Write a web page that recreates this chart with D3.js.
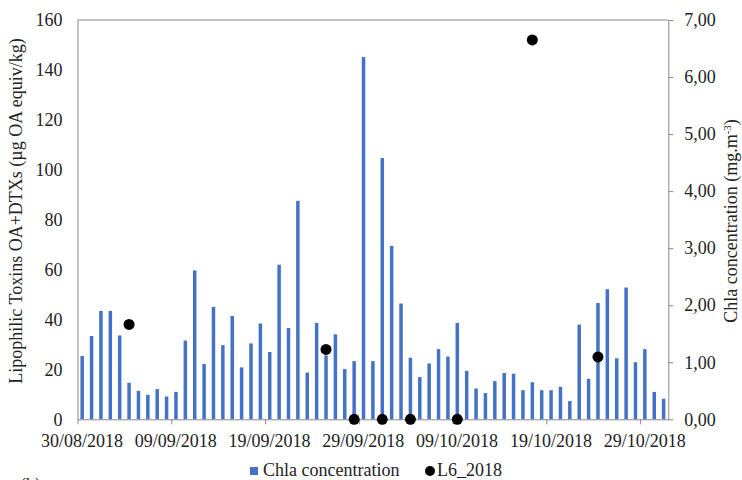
<!DOCTYPE html>
<html>
<head>
<meta charset="utf-8">
<script src="https://cdn.jsdelivr.net/npm/d3@7"></script>
<style>
  html, body { margin: 0; padding: 0; background: #fff; }
  svg { display: block; font-family: "Liberation Serif", "Times New Roman", serif; }
</style>
</head>
<body>
<svg id="chart" width="742" height="480"></svg>
<script>
// Daily chlorophyll a (mg.m-3), one value per day starting 30/08/2018
const firstDay = "2018-08-30";
const chla = [
  1.11, 1.46, 1.90, 1.90, 1.47, 0.64, 0.50, 0.43, 0.53, 0.40,
  0.48, 1.38, 2.61, 0.97, 1.97, 1.30, 1.81, 0.91, 1.33, 1.68,
  1.18, 2.71, 1.60, 3.83, 0.82, 1.69, 1.12, 1.49, 0.88, 1.02,
  6.35, 1.02, 4.58, 3.04, 2.03, 1.08, 0.74, 0.98, 1.23, 1.10,
  1.69, 0.85, 0.54, 0.46, 0.67, 0.81, 0.80, 0.51, 0.65, 0.51,
  0.51, 0.57, 0.32, 1.66, 0.71, 2.04, 2.28, 1.07, 2.31, 1.00,
  1.23, 0.48, 0.36
];

// Lipophilic toxin samples, station L6 (µg OA equiv/kg)
const toxinDates = ["2018-09-04", "2018-09-25", "2018-09-28", "2018-10-01",
                    "2018-10-04", "2018-10-09", "2018-10-17", "2018-10-24"];
const toxinValues = [38, 28, 0, 0, 0, 0, 152, 25];

// Axis ticks
const dateTicks = ["2018-08-30", "2018-09-09", "2018-09-19", "2018-09-29",
                   "2018-10-09", "2018-10-19", "2018-10-29"];
const leftTicks = [0, 20, 40, 60, 80, 100, 120, 140, 160];
const rightTicks = [0, 1, 2, 3, 4, 5, 6, 7];

const parse = d3.utcParse("%Y-%m-%d");
const fmtDate = d3.utcFormat("%d/%m/%Y");
const start = parse(firstDay);
const dayCenter = d => d3.utcHour.offset(d, 12);

const svg = d3.select("#chart");
svg.append("rect").attr("width", 742).attr("height", 480).attr("fill", "#fff");

const plot = { left: 77.5, right: 668.3, top: 20, bottom: 419.3 };

const x = d3.scaleUtc()
  .domain([start, d3.utcDay.offset(start, chla.length)])
  .range([plot.left, plot.right]);
const yLeft = d3.scaleLinear().domain([0, 160]).range([plot.bottom, plot.top]);
const yRight = d3.scaleLinear().domain([0, 7]).range([plot.bottom, plot.top]);

const axisColor = "#8a8a8a";
const textColor = "#222";
const barColor = "#4472c4";

// Frame: top border
svg.append("line")
  .attr("x1", plot.left).attr("x2", plot.right)
  .attr("y1", plot.top).attr("y2", plot.top)
  .attr("stroke", axisColor).attr("stroke-width", 1);

// Bars (right axis)
const barW = 3.5;
svg.append("g").selectAll("rect")
  .data(chla)
  .join("rect")
  .attr("x", (v, i) => x(dayCenter(d3.utcDay.offset(start, i))) - barW / 2)
  .attr("width", barW)
  .attr("y", v => yRight(v))
  .attr("height", v => yRight(0) - yRight(v))
  .attr("fill", barColor);

// Left axis
const gL = svg.append("g").attr("transform", `translate(${plot.left},0)`)
  .call(d3.axisLeft(yLeft).tickValues(leftTicks).tickSize(0).tickPadding(15));
gL.select(".domain").attr("stroke", axisColor);
gL.selectAll("text").attr("font-family", "Liberation Serif").attr("font-size", 18)
  .attr("fill", textColor);

// Right axis
const gR = svg.append("g").attr("transform", `translate(${plot.right},0)`)
  .call(d3.axisRight(yRight).tickValues(rightTicks).tickSize(5).tickSizeOuter(0).tickPadding(11)
    .tickFormat(d => d3.format(".2f")(d).replace(".", ",")));
gR.select(".domain").attr("stroke", axisColor);
gR.selectAll(".tick line").attr("stroke", axisColor);
gR.selectAll("text").attr("font-family", "Liberation Serif").attr("font-size", 18)
  .attr("fill", textColor);

// Bottom date axis
const gB = svg.append("g").attr("transform", `translate(0,${plot.bottom})`)
  .call(d3.axisBottom(x).tickValues(dateTicks.map(parse)).tickSize(5).tickSizeOuter(0)
    .tickPadding(10).tickFormat(fmtDate));
gB.select(".domain").attr("stroke", axisColor);
gB.selectAll(".tick line").attr("stroke", axisColor);
gB.selectAll("text").attr("font-family", "Liberation Serif").attr("font-size", 18)
  .attr("fill", textColor).attr("dx", 4);

// Toxin points (left axis)
svg.append("g").selectAll("circle")
  .data(toxinDates.map((d, i) => ({ date: parse(d), value: toxinValues[i] })))
  .join("circle")
  .attr("cx", d => x(dayCenter(d.date)))
  .attr("cy", d => yLeft(d.value))
  .attr("r", 5.5)
  .attr("fill", "#000");

// Axis titles
svg.append("text")
  .attr("transform", "translate(22,211) rotate(-90)")
  .attr("text-anchor", "middle")
  .attr("font-size", 18).attr("fill", textColor)
  .text("Lipophilic Toxins OA+DTXs (µg OA equiv/kg)");

const rt = svg.append("text")
  .attr("transform", "translate(737,221) rotate(-90)")
  .attr("text-anchor", "middle")
  .attr("font-size", 18).attr("fill", textColor);
rt.append("tspan").text("Chla concentration (mg.m");
rt.append("tspan").attr("baseline-shift", "super").attr("font-size", 11).text("-3");
rt.append("tspan").text(")");

// Legend
const legend = svg.append("g").attr("font-size", 18).attr("fill", textColor);
legend.append("rect").attr("x", 250).attr("y", 467).attr("width", 8).attr("height", 8)
  .attr("fill", barColor);
legend.append("text").attr("x", 263).attr("y", 476).text("Chla concentration");
legend.append("circle").attr("cx", 430).attr("cy", 471).attr("r", 5).attr("fill", "#000");
legend.append("text").attr("x", 437).attr("y", 476).text("L6_2018");

// Panel letter, partly below the bottom edge
svg.append("text").attr("x", 20).attr("y", 491).attr("font-size", 18)
  .attr("fill", textColor).text("(b)");
</script>
</body>
</html>
